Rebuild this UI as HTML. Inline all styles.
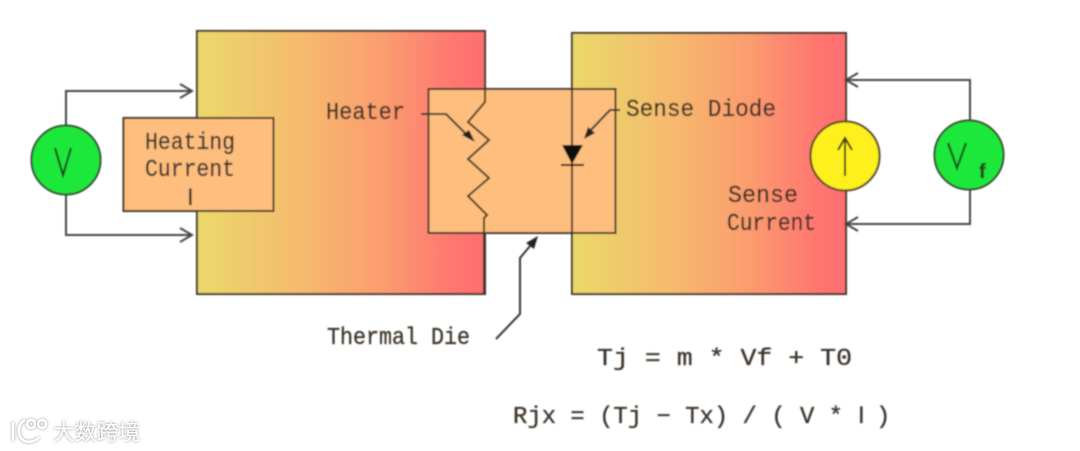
<!DOCTYPE html>
<html>
<head>
<meta charset="utf-8">
<style>
html,body{margin:0;padding:0;background:#fff;width:1080px;height:451px;overflow:hidden}
svg{display:block}
text{font-family:"Liberation Mono",monospace;fill:#3a3028;font-size:24px;stroke:#3a3028;stroke-width:0.3}
.s{font-family:"Liberation Sans",sans-serif}
</style>
</head>
<body>
<svg width="1080" height="451" viewBox="0 0 1080 451" xmlns="http://www.w3.org/2000/svg">
<defs>
<linearGradient id="g" x1="0" x2="1" y1="0" y2="0">
<stop offset="0" stop-color="#ead96a"/>
<stop offset="0.38" stop-color="#f6b86e"/>
<stop offset="0.65" stop-color="#fb9c6e"/>
<stop offset="0.9" stop-color="#ff7570"/>
<stop offset="1" stop-color="#ff6e6e"/>
</linearGradient>
<filter id="b" x="-5%" y="-5%" width="110%" height="110%"><feGaussianBlur stdDeviation="0.7"/></filter>
<filter id="w" x="-20%" y="-40%" width="140%" height="180%"><feDropShadow dx="0" dy="0" stdDeviation="1.2" flood-color="#777" flood-opacity="0.9"/></filter>
</defs>
<g filter="url(#b)">
<rect x="197" y="31" width="288" height="263" fill="url(#g)" stroke="#3a3028" stroke-width="2"/>
<rect x="572" y="33" width="274" height="261" fill="url(#g)" stroke="#3a3028" stroke-width="2"/>
<rect x="428.500" y="89" width="187" height="144" fill="#fdbe7e" stroke="#3a3028" stroke-width="2"/>
<rect x="123.500" y="118" width="150" height="93" fill="#fdbe7e" stroke="#3a3028" stroke-width="2"/>

<g fill="none" stroke="#444" stroke-width="2">
<path d="M66 125V91H191M180 84L192 91L180 98"/>
<path d="M66 195V235H191M180 228L192 235L180 242"/>
<path d="M970 120V80H847M858 73L846 80L858 87"/>
<path d="M970 190V224H847M858 217L846 224L858 231"/>
</g>

<circle cx="66" cy="160" r="34.500" fill="#1fe83a" stroke="#2f4a2a" stroke-width="2"/>
<circle cx="845" cy="156" r="34.500" fill="#fdf01e" stroke="#4a4028" stroke-width="2"/>
<circle cx="969" cy="155" r="34.500" fill="#1fe83a" stroke="#2f4a2a" stroke-width="2"/>

<path d="M845 176V138M838 150L845 138L852 150" fill="none" stroke="#3a3a18" stroke-width="2"/>
<path d="M55 148L63 175L71 148" fill="none" stroke="#1f4a20" stroke-width="2.200"/>
<path d="M948 143L957 168L966 143" fill="none" stroke="#1f4a20" stroke-width="2.200"/>

<path d="M485 89V102L468 122L489 140L468 159L489 178L468 196L487 215L484 218V233" fill="none" stroke="#4a3818" stroke-width="2"/>
<path d="M484 233V294" stroke="#3a3028" stroke-width="2"/>
<path d="M572 33V294" stroke="#3a3028" stroke-width="2"/>
<path d="M562 145H583L572 164Z" fill="#111"/>
<path d="M561 165H584" stroke="#111" stroke-width="2"/>

<path d="M421 114H446L468 136" fill="none" stroke="#333" stroke-width="2"/>
<path d="M462 135L469 130L475 142Z" fill="#222"/>
<path d="M620 110H610L590 131" fill="none" stroke="#333" stroke-width="2"/>
<path d="M584 139L588 127L595 133Z" fill="#222"/>
<path d="M496 339L520 314V258L530 246" fill="none" stroke="#333" stroke-width="2"/>
<path d="M538 236L534 249L526 243Z" fill="#222"/>

<text x="145" y="149" textLength="90" lengthAdjust="spacingAndGlyphs">Heating</text>
<text x="145" y="176" textLength="90" lengthAdjust="spacingAndGlyphs">Current</text>
<text class="s" x="187" y="205">I</text>
<text x="326" y="119" textLength="79" lengthAdjust="spacingAndGlyphs">Heater</text>
<text x="626" y="116" textLength="150" lengthAdjust="spacingAndGlyphs">Sense Diode</text>
<text x="728" y="202" textLength="70" lengthAdjust="spacingAndGlyphs">Sense</text>
<text x="727" y="230" textLength="89" lengthAdjust="spacingAndGlyphs">Current</text>
<text class="s" x="979" y="178" style="font-weight:bold;font-size:20px;fill:#1f4a20">f</text>
<text x="327" y="344" textLength="143" lengthAdjust="spacingAndGlyphs">Thermal Die</text>
<text x="597" y="365" textLength="255" lengthAdjust="spacingAndGlyphs">Tj = m * Vf + T0</text>
<text x="513" y="423" textLength="330" lengthAdjust="spacingAndGlyphs">Rjx = (Tj − Tx) / ( V *</text>
<text class="s" x="858" y="423">I</text>
<text x="876" y="423">)</text>
</g>

<g filter="url(#w)">
<g fill="none" stroke="#fff" stroke-width="2.500">
<path d="M13 422V441M25 420C17 424 17 436 24 441C30 443 36 441 39 437"/>
<circle cx="31" cy="424" r="4"/>
<circle cx="42" cy="424" r="4"/>
</g>
<text x="53" y="440" style="font-family:'Liberation Sans','Noto Sans CJK SC',sans-serif;font-size:22px;fill:#fff;stroke:none" textLength="87" lengthAdjust="spacingAndGlyphs">大数跨境</text>
</g>
</svg>
</body>
</html>
